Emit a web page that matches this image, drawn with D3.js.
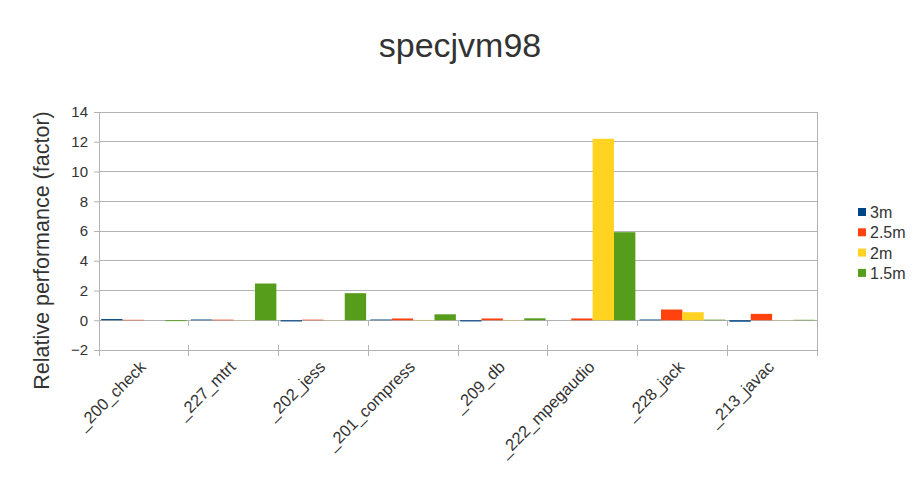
<!DOCTYPE html>
<html><head><meta charset="utf-8">
<script src="https://cdn.jsdelivr.net/npm/d3@7"></script>
<style>body{margin:0;background:#fff}svg{display:block;font-family:"Liberation Sans",Arial,sans-serif}</style>
</head><body><svg id="c" width="921" height="487"></svg>
<script>
const categories = ["_200_check","_227_mtrt","_202_jess","_201_compress","_209_db","_222_mpegaudio","_228_jack","_213_javac"];
const seriesNames = ["3m","2.5m","2m","1.5m"];
const s3m   = [0.08, 0.05, -0.08, 0.05, -0.08, 0.0, 0.05, -0.1];
const s25m  = [0.03, 0.04, 0.04, 0.12, 0.12, 0.12, 0.72, 0.43];
const s2m   = [0.0, 0.01, 0.01, 0.02, 0.02, 12.2, 0.54, 0.01];
const s15m  = [-0.06, 2.47, 1.82, 0.4, 0.13, 5.92, 0.04, 0.03];
const yTicks = [-2,0,2,4,6,8,10,12,14];
const colors = ["#004586","#ff420e","#ffd320","#579d1c"];

const seriesValues = [s3m, s25m, s2m, s15m];
const svg = d3.select("#c");
const L = 99, R = 817, T = 112, B = 350;
const x = d3.scaleBand().domain(categories).range([L, R]).paddingInner(0).paddingOuter(0);
const xi = d3.scaleBand().domain(seriesNames).range([0, x.bandwidth()]).paddingInner(0).paddingOuter(0.1);
const y = d3.scaleLinear().domain([-2, 14]).range([B, T]);
const grid = "#b3b3b3";

// gridlines
svg.append("g").selectAll("line").data(yTicks).join("line")
  .attr("x1", L).attr("x2", R).attr("y1", d => y(d)).attr("y2", d => y(d))
  .attr("stroke", grid).attr("stroke-width", 1).attr("shape-rendering","crispEdges");
// right border
svg.append("line").attr("x1", R).attr("x2", R).attr("y1", T).attr("y2", B)
  .attr("stroke", grid).attr("shape-rendering","crispEdges");

// y axis
const yAxis = svg.append("g").attr("transform", `translate(${L},0)`)
  .call(d3.axisLeft(y).tickValues(yTicks).tickSize(5).tickPadding(6).tickFormat(d3.format("d")));
yAxis.select(".domain").attr("stroke", grid);
yAxis.selectAll(".tick line").attr("stroke", grid);
yAxis.selectAll("text").attr("font-size", 15).attr("fill", "#333")
  .attr("font-family", '"Liberation Sans",Arial,sans-serif');

// bars
categories.forEach((c, i) => {
  seriesNames.forEach((s, j) => {
    const v = seriesValues[j][i];
    svg.append("rect")
      .attr("x", x(c) + xi(s))
      .attr("width", xi.bandwidth())
      .attr("y", y(Math.max(0, v)))
      .attr("height", Math.abs(y(v) - y(0)))
      .attr("fill", colors[j]);
  });
});

// x-axis boundary ticks at 0 and at -2
const bounds = categories.map(c => x(c)).concat([R]);
svg.append("g").selectAll("line").data(bounds).join("line")
  .attr("x1", d => d).attr("x2", d => d).attr("y1", y(0)).attr("y2", y(0) + 6)
  .attr("stroke", grid).attr("shape-rendering","crispEdges");
svg.append("g").selectAll("line").data(bounds).join("line")
  .attr("x1", d => d).attr("x2", d => d).attr("y1", B - 5).attr("y2", B + 6)
  .attr("stroke", grid).attr("shape-rendering","crispEdges");

// x labels
svg.append("g").selectAll("text").data(categories).join("text")
  .attr("transform", d => `translate(${x(d) + x.bandwidth()/2 + 3},${368}) rotate(-45)`)
  .attr("text-anchor", "end").attr("font-size", 16.5).attr("fill", "#333").text(d => d);

// title
svg.append("text").attr("x", 460).attr("y", 57).attr("text-anchor", "middle")
  .attr("font-size", 34).attr("fill", "#333").text("specjvm98");

// y label
svg.append("text").attr("transform", `translate(49,${(108+393)/2}) rotate(-90)`)
  .attr("text-anchor", "middle").attr("font-size", 21.5).attr("fill", "#333")
  .text("Relative performance (factor)");

// legend
const lg = svg.append("g");
seriesNames.forEach((s, j) => {
  const yy = 212 + j * 20.3;
  lg.append("rect").attr("x", 858).attr("y", yy - 4).attr("width", 8).attr("height", 8).attr("fill", colors[j]);
  lg.append("text").attr("x", 870).attr("y", yy + 6).attr("font-size", 16).attr("fill", "#333").text(s);
});
</script></body></html>
